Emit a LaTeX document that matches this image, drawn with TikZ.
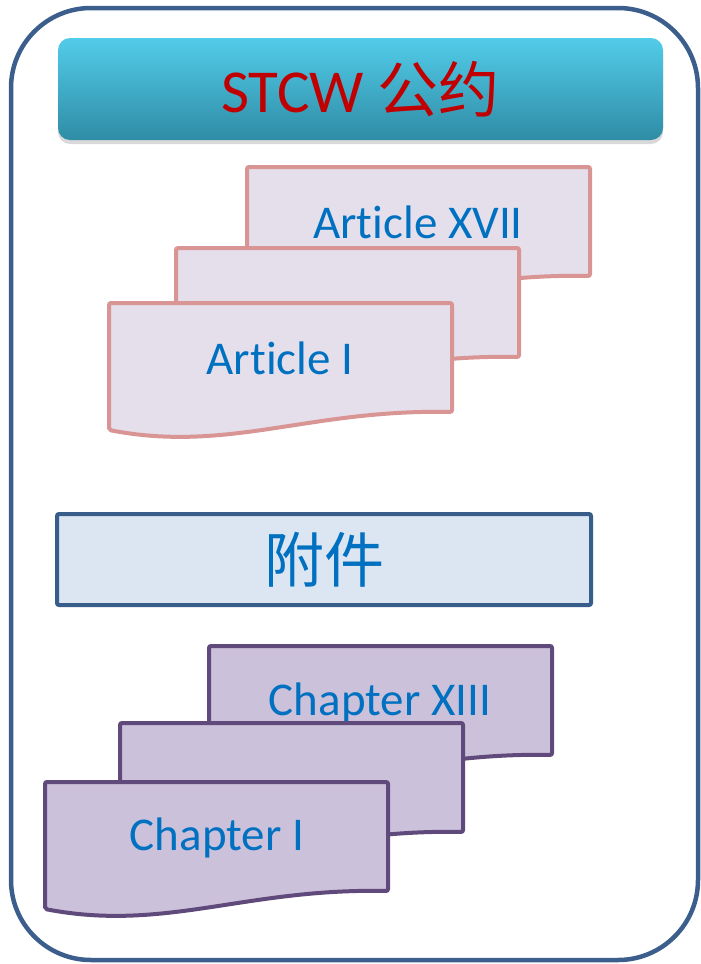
\documentclass[tikz,border=0pt]{standalone}
\usepackage{fontspec}
\setmainfont[Ligatures=NoCommon]{Carlito}
\newfontfamily\cjk{Noto Sans CJK SC}
\usetikzlibrary{shadows}

\definecolor{framecol}{HTML}{3B5E8C}
\definecolor{artline}{HTML}{D99594}
\definecolor{artfill}{HTML}{E5DFEC}
\definecolor{chline}{HTML}{604A7B}
\definecolor{chfill}{HTML}{CCC1DA}
\definecolor{annexline}{HTML}{385D8A}
\definecolor{annexfill}{HTML}{DCE6F2}
\definecolor{textblue}{HTML}{0070C0}
\definecolor{titlered}{HTML}{C00000}
\definecolor{titletop}{HTML}{52CCEA}
\definecolor{titlebot}{HTML}{2F8CA5}

% sheet with a wavy bottom edge, 343 wide
\newcommand{\docsheet}[3]{%
  \draw[#1, shift={(#2,#3)}] (0,0) -- (343,0) -- (343,109)
    .. controls (200,106) and (120,150) .. (0,127) -- cycle;}

\tikzset{
  artsheet/.style={draw=artline, fill=artfill, line width=4pt, rounded corners=2pt},
  chsheet/.style={draw=chline, fill=chfill, line width=4pt, rounded corners=2pt},
  doctext/.style={text=textblue, font=\fontsize{47}{50}\selectfont},
}

\begin{document}
\begin{tikzpicture}[x=1pt, y=-1pt]

\useasboundingbox (0,0) rectangle (701,964);

% outer frame
\draw[framecol, line width=4.5pt, rounded corners=80pt] (11,8) rectangle (698,960);

% title bar
\node[rounded corners=12pt, top color=titletop, bottom color=titlebot,
      minimum width=605pt, minimum height=102pt, inner sep=0pt,
      drop shadow={opacity=0.3, shadow xshift=0pt, shadow yshift=-4pt},
      text=titlered, font=\fontsize{61}{64}\selectfont]
  (title) at (360.5,89) {STCW {\cjk 公约}};

% articles
\docsheet{artsheet}{247}{167}
\node[doctext] (art17) at (418,222) {Article XVII};
\docsheet{artsheet}{176}{248}
\docsheet{artsheet}{109}{303}
\node[doctext] (art1) at (280,358) {Article I};

% annex
\node[draw=annexline, fill=annexfill, line width=4pt, rounded corners=2pt,
      minimum width=534pt, minimum height=91pt, inner sep=0pt,
      text=textblue, font=\cjk\fontsize{60}{64}\selectfont]
  (annex) at (324,559.5) {附件};

% chapters
\docsheet{chsheet}{209}{646}
\node[doctext] (ch13) at (380,703) {Chapter XIII};
\docsheet{chsheet}{120}{723}
\docsheet{chsheet}{45}{782}
\node[doctext] (ch1) at (217,838) {Chapter I};

\end{tikzpicture}
\end{document}
